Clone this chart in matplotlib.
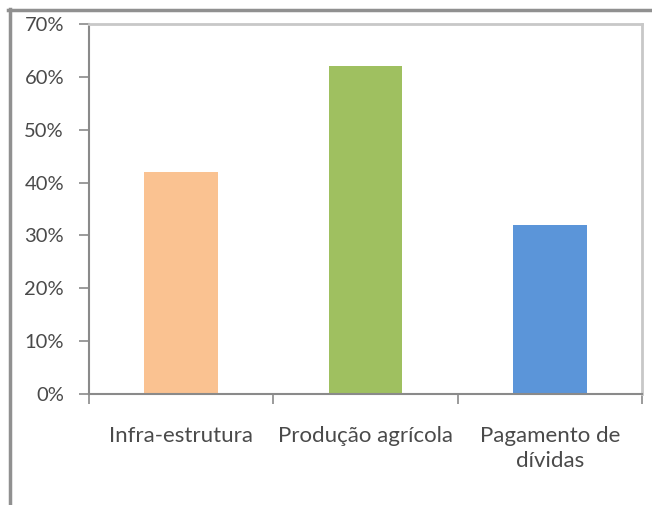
import numpy as np
import matplotlib
matplotlib.use("Agg")
import matplotlib.pyplot as plt
from matplotlib.lines import Line2D
from matplotlib.ticker import FuncFormatter, FixedLocator

categories = ["Infra-estrutura", "Produção agrícola", "Pagamento de\ndívidas"]
values = [42, 62, 32]
bar_colors = ["#FAC291", "#9FC060", "#5B95D9"]

plt.rcParams['font.family'] = ['Lato', 'DejaVu Sans']
text_color = '#4a4a4a'

fig = plt.figure(figsize=(6.52, 5.05), dpi=100)
ax = fig.add_axes([89 / 652, 1 - 394 / 505, (642 - 89) / 652, (394 - 24) / 505])

x = np.arange(len(categories))
ax.bar(x, values, width=0.4, color=bar_colors, zorder=2)

ax.set_xlim(-0.5, len(categories) - 0.5)
ax.set_ylim(0, 70)
ax.yaxis.set_major_locator(FixedLocator(np.arange(0, 71, 10)))
ax.yaxis.set_major_formatter(FuncFormatter(lambda v, p: f"{v:.0f}%"))

# category labels sit between the boundary ticks
ax.set_xticks(np.arange(-0.5, len(categories), 1.0))
ax.set_xticklabels([])
ax.set_xticks(x, minor=True)
ax.set_xticklabels(categories, minor=True, fontsize=16, color=text_color,
                   linespacing=1.3)
ax.tick_params(axis='x', which='minor', length=0, pad=23)
ax.tick_params(axis='x', which='major', length=7, width=1.2, color='#8a8a8a')
ax.tick_params(axis='y', length=7, width=1.2, color='#8a8a8a', labelsize=14.5,
               labelcolor=text_color, pad=11)

for side in ['left', 'bottom']:
    ax.spines[side].set_color('#8a8a8a')
    ax.spines[side].set_linewidth(1.5)
for side in ['top', 'right']:
    ax.spines[side].set_color('#c8c8c8')
    ax.spines[side].set_linewidth(2)

# outer frame, top and left edges
fig.add_artist(Line2D([8 / 652, 1], [1 - 10 / 505] * 2, color='#909090',
                      lw=2.5, transform=fig.transFigure))
fig.add_artist(Line2D([10 / 652] * 2, [1 - 9 / 505, 0], color='#909090',
                      lw=2.5, transform=fig.transFigure))

fig.savefig('out.png', dpi=100)
